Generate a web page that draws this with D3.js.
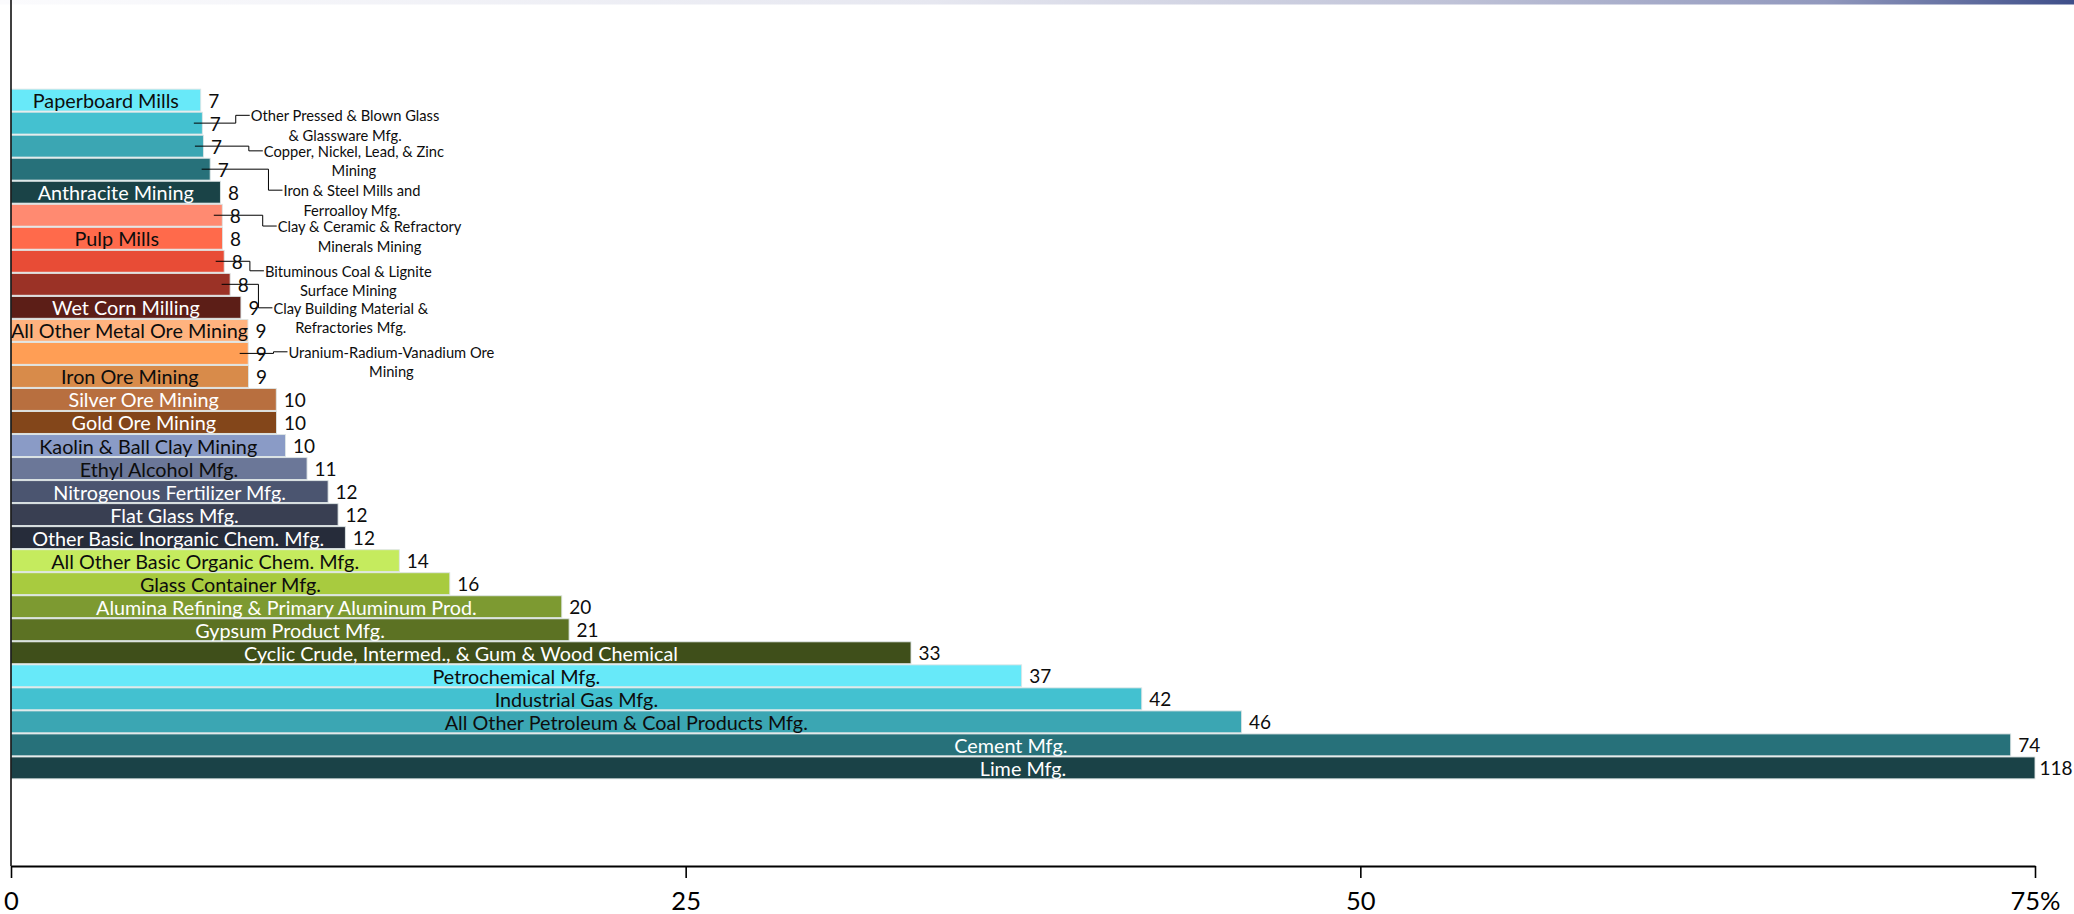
<!DOCTYPE html>
<html>
<head>
<meta charset="utf-8">
<script src="https://cdn.jsdelivr.net/npm/d3@7"></script>
<style>
  html, body { margin: 0; padding: 0; background: #ffffff; }
  svg { display: block; }
  text { font-family: Lato, "Open Sans", sans-serif; }
</style>
</head>
<body>
<svg id="chart" width="2074" height="914"></svg>
<script>
// ---------------- data ----------------
const categories = [
  "Paperboard Mills",
  "Other Pressed & Blown Glass & Glassware Mfg.",
  "Copper, Nickel, Lead, & Zinc Mining",
  "Iron & Steel Mills and Ferroalloy Mfg.",
  "Anthracite Mining",
  "Clay & Ceramic & Refractory Minerals Mining",
  "Pulp Mills",
  "Bituminous Coal & Lignite Surface Mining",
  "Clay Building Material & Refractories Mfg.",
  "Wet Corn Milling",
  "All Other Metal Ore Mining",
  "Uranium-Radium-Vanadium Ore Mining",
  "Iron Ore Mining",
  "Silver Ore Mining",
  "Gold Ore Mining",
  "Kaolin & Ball Clay Mining",
  "Ethyl Alcohol Mfg.",
  "Nitrogenous Fertilizer Mfg.",
  "Flat Glass Mfg.",
  "Other Basic Inorganic Chem. Mfg.",
  "All Other Basic Organic Chem. Mfg.",
  "Glass Container Mfg.",
  "Alumina Refining & Primary Aluminum Prod.",
  "Gypsum Product Mfg.",
  "Cyclic Crude, Intermed., & Gum & Wood Chemical",
  "Petrochemical Mfg.",
  "Industrial Gas Mfg.",
  "All Other Petroleum & Coal Products Mfg.",
  "Cement Mfg.",
  "Lime Mfg."
];

const values = [
  7.03, 7.09, 7.13, 7.38, 7.76,
  7.83, 7.84, 7.90, 8.12, 8.52,
  8.78, 8.79, 8.80, 9.83, 9.84,
  10.17, 10.97, 11.75, 12.12, 12.39,
  14.39, 16.26, 20.41, 20.68, 33.35,
  37.45, 41.90, 45.60, 74.10, 118.0
];

const xTickValues = [0, 25, 50, 75];
const xTickLabels = ["0", "25", "50", "75%"];

// labels shown beside the bar with a leader line (line 1 of the wrapped name)
const calloutNames = [
  "Other Pressed & Blown Glass & Glassware Mfg.",
  "Copper, Nickel, Lead, & Zinc Mining",
  "Iron & Steel Mills and Ferroalloy Mfg.",
  "Clay & Ceramic & Refractory Minerals Mining",
  "Bituminous Coal & Lignite Surface Mining",
  "Clay Building Material & Refractories Mfg.",
  "Uranium-Radium-Vanadium Ore Mining"
];
const calloutFirstLines = [
  "Other Pressed & Blown Glass",
  "Copper, Nickel, Lead, & Zinc",
  "Iron & Steel Mills and",
  "Clay & Ceramic & Refractory",
  "Bituminous Coal & Lignite",
  "Clay Building Material &",
  "Uranium-Radium-Vanadium Ore"
];

// ---------------- styles / layout ----------------
const barColors = [
  "#68e9f9", "#44c1d0", "#3ba6b3", "#27717a", "#1a4347",
  "#ff8a71", "#ff6a4b", "#e84c36", "#9b3226", "#5c1e17",
  "#ffb37f", "#ff9e55", "#d88b4a", "#b86f3f", "#83461a",
  "#8a9bc6", "#6b7798", "#4b5570", "#393f52", "#262c3a",
  "#c5eb5e", "#a8cb3f", "#7d9a31", "#5c7223", "#3f4f1a",
  "#67e9f9", "#43c1d0", "#3ba6b3", "#27717a", "#1a4247"
];
// 1 = dark label text, 0 = white label text
const labelInk = [
  1, 1, 1, 1, 0,
  1, 1, 1, 0, 0,
  1, 1, 1, 0, 0,
  1, 1, 0, 0, 0,
  1, 1, 0, 0, 0,
  1, 1, 1, 0, 0
];
// callout text offsets: [px right of bar end, px from bar centre to first line]
const calloutOffsets = [
  [48.4, -7.8], [60.4, 4.7], [73.3, 21.0], [55.4, 10.8],
  [40.7, 9.5], [43.3, 23.5], [40.3, -1.6]
];

const W = 2074, H = 914;
const svg = d3.select("#chart");

// top gradient band
const defs = svg.append("defs");
const grad = defs.append("linearGradient").attr("id", "topGrad")
  .attr("x1", "0%").attr("x2", "100%").attr("y1", "0%").attr("y2", "0%");
[[0, "#fbfbfd"], [0.45, "#e6e7f0"], [0.7, "#bfc2d7"], [0.88, "#9198bd"], [1, "#3e4e89"]]
  .forEach(([o, c]) => grad.append("stop").attr("offset", o).attr("stop-color", c));
svg.append("rect").attr("x", 0).attr("y", 0).attr("width", W).attr("height", 4.5)
  .attr("fill", "url(#topGrad)");

const x = d3.scaleLinear().domain([0, 75]).range([11, 2035]).clamp(true);
const y = d3.scaleBand().domain(categories).range([88.7, 779.3]).paddingInner(0.05).paddingOuter(0.02);

const rows = categories.map((c, i) => ({
  name: c, value: values[i], color: barColors[i], ink: labelInk[i], i
}));

// bars
svg.append("g").selectAll("rect").data(rows).join("rect")
  .attr("x", x(0))
  .attr("y", d => y(d.name))
  .attr("width", d => x(d.value) - x(0))
  .attr("height", y.bandwidth())
  .attr("fill", d => d.color)
  .attr("stroke", "#dde5e5")
  .attr("stroke-width", 0.9);

// inside labels
const inside = rows.filter(d => !calloutNames.includes(d.name));
svg.append("g").selectAll("text").data(inside).join("text")
  .attr("x", d => (x(0) + x(d.value)) / 2)
  .attr("y", d => y(d.name) + y.bandwidth() / 2)
  .attr("text-anchor", "middle")
  .attr("dominant-baseline", "central")
  .attr("font-size", 19.8)
  .attr("fill", d => d.ink ? "#0d0d0d" : "#ffffff")
  .text(d => d.name);

// callouts
const cg = svg.append("g");
calloutNames.forEach((name, k) => {
  const v = values[categories.indexOf(name)];
  const end = x(v);
  const cy = y(name) + y.bandwidth() / 2;
  const left = end + calloutOffsets[k][0];
  const ly = cy + calloutOffsets[k][1];
  const l1 = calloutFirstLines[k];
  const l2 = name.slice(l1.length).trim();
  const elbow = left - 15;
  cg.append("path")
    .attr("d", `M${end - 8.5},${cy}H${elbow}V${ly}H${left - 1}`)
    .attr("fill", "none").attr("stroke", "#000").attr("stroke-width", 1);
  const t = cg.append("text")
    .attr("font-size", 14.7)
    .attr("fill", "#0d0d0d")
    .attr("text-anchor", "middle")
    .attr("dominant-baseline", "central");
  const t1 = t.append("tspan").attr("y", ly).text(l1);
  const w1 = t1.node().getComputedTextLength();
  t1.attr("x", left + w1 / 2);
  t.append("tspan").attr("x", left + w1 / 2).attr("y", ly + 19.5).text(l2);
});

// value labels (kept inside the picture's right edge)
svg.append("g").selectAll("text").data(rows).join("text")
  .attr("x", d => x(d.value) + 7.5)
  .attr("y", d => y(d.name) + y.bandwidth() / 2)
  .attr("dominant-baseline", "central")
  .attr("font-size", 19)
  .attr("fill", "#0d0d0d")
  .text(d => String(Math.round(d.value)))
  .each(function () {
    const w = this.getComputedTextLength();
    const x0 = +this.getAttribute("x");
    if (x0 + w > W - 1.5) this.setAttribute("x", W - 1.5 - w);
  });

// y axis line
svg.append("line").attr("x1", x(0)).attr("x2", x(0)).attr("y1", 0).attr("y2", 866)
  .attr("stroke", "#000").attr("stroke-width", 1.5);

// x axis
const xAxis = d3.axisBottom(x)
  .tickValues(xTickValues)
  .tickFormat((d, i) => xTickLabels[i])
  .tickSize(12).tickSizeOuter(0).tickPadding(14);
const ax = svg.append("g").attr("transform", "translate(0,866)").call(xAxis);
ax.select(".domain").attr("stroke", "#000").attr("stroke-width", 2.2);
ax.selectAll(".tick line").attr("stroke", "#000").attr("stroke-width", 1.6);
ax.selectAll(".tick text").attr("font-size", 25.5).attr("fill", "#000")
  .attr("font-family", "Lato, 'Open Sans', sans-serif");
</script>
</body>
</html>
